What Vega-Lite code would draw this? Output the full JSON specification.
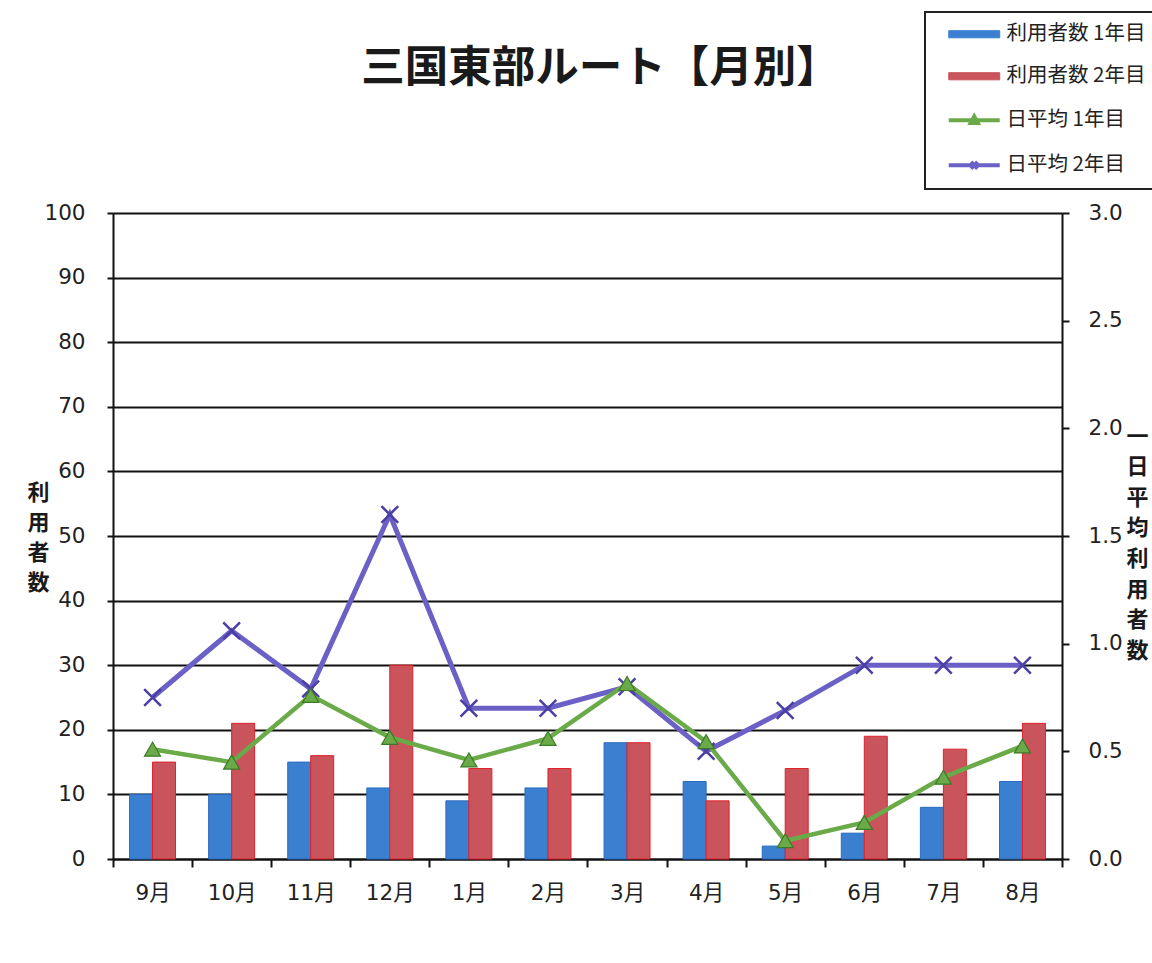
{
  "$schema": "https://vega.github.io/schema/vega-lite/v6.json",
  "width": 949,
  "height": 646,
  "autosize": {"type": "none"},
  "padding": {"left": 113, "top": 213, "right": 90, "bottom": 104},
  "background": "white",
  "config": {"view": {"stroke": null}, "font": "Noto Sans CJK JP"},
  "title": {
    "text": "三国東部ルート【月別】",
    "anchor": "middle",
    "fontSize": 43.5,
    "fontWeight": "bold",
    "font": "Noto Sans CJK JP",
    "color": "#1a1a1a",
    "offset": 0,
    "dy": 80,
    "dx": 13
  },
  "datasets": {
    "bars": [
      {"month": "9月", "series": "利用者数 1年目", "value": 10},
      {"month": "9月", "series": "利用者数 2年目", "value": 15},
      {"month": "10月", "series": "利用者数 1年目", "value": 10},
      {"month": "10月", "series": "利用者数 2年目", "value": 21},
      {"month": "11月", "series": "利用者数 1年目", "value": 15},
      {"month": "11月", "series": "利用者数 2年目", "value": 16},
      {"month": "12月", "series": "利用者数 1年目", "value": 11},
      {"month": "12月", "series": "利用者数 2年目", "value": 30},
      {"month": "1月", "series": "利用者数 1年目", "value": 9},
      {"month": "1月", "series": "利用者数 2年目", "value": 14},
      {"month": "2月", "series": "利用者数 1年目", "value": 11},
      {"month": "2月", "series": "利用者数 2年目", "value": 14},
      {"month": "3月", "series": "利用者数 1年目", "value": 18},
      {"month": "3月", "series": "利用者数 2年目", "value": 18},
      {"month": "4月", "series": "利用者数 1年目", "value": 12},
      {"month": "4月", "series": "利用者数 2年目", "value": 9},
      {"month": "5月", "series": "利用者数 1年目", "value": 2},
      {"month": "5月", "series": "利用者数 2年目", "value": 14},
      {"month": "6月", "series": "利用者数 1年目", "value": 4},
      {"month": "6月", "series": "利用者数 2年目", "value": 19},
      {"month": "7月", "series": "利用者数 1年目", "value": 8},
      {"month": "7月", "series": "利用者数 2年目", "value": 17},
      {"month": "8月", "series": "利用者数 1年目", "value": 12},
      {"month": "8月", "series": "利用者数 2年目", "value": 21}
    ],
    "lines": [
      {"month": "9月", "series": "日平均 1年目", "value": 0.51},
      {"month": "10月", "series": "日平均 1年目", "value": 0.45},
      {"month": "11月", "series": "日平均 1年目", "value": 0.76},
      {"month": "12月", "series": "日平均 1年目", "value": 0.565},
      {"month": "1月", "series": "日平均 1年目", "value": 0.46},
      {"month": "2月", "series": "日平均 1年目", "value": 0.56},
      {"month": "3月", "series": "日平均 1年目", "value": 0.815},
      {"month": "4月", "series": "日平均 1年目", "value": 0.545},
      {"month": "5月", "series": "日平均 1年目", "value": 0.085},
      {"month": "6月", "series": "日平均 1年目", "value": 0.17},
      {"month": "7月", "series": "日平均 1年目", "value": 0.38},
      {"month": "8月", "series": "日平均 1年目", "value": 0.525},
      {"month": "9月", "series": "日平均 2年目", "value": 0.75},
      {"month": "10月", "series": "日平均 2年目", "value": 1.06},
      {"month": "11月", "series": "日平均 2年目", "value": 0.79},
      {"month": "12月", "series": "日平均 2年目", "value": 1.6},
      {"month": "1月", "series": "日平均 2年目", "value": 0.7},
      {"month": "2月", "series": "日平均 2年目", "value": 0.7},
      {"month": "3月", "series": "日平均 2年目", "value": 0.8},
      {"month": "4月", "series": "日平均 2年目", "value": 0.5},
      {"month": "5月", "series": "日平均 2年目", "value": 0.69},
      {"month": "6月", "series": "日平均 2年目", "value": 0.9},
      {"month": "7月", "series": "日平均 2年目", "value": 0.9},
      {"month": "8月", "series": "日平均 2年目", "value": 0.9}
    ]
  },
  "layer": [
    {
      "data": {"name": "bars"},
      "mark": {"type": "bar", "strokeWidth": 1},
      "encoding": {
        "x": {
          "field": "month",
          "type": "nominal",
          "sort": ["9月", "10月", "11月", "12月", "1月", "2月", "3月", "4月", "5月", "6月", "7月", "8月"],
          "scale": {"paddingInner": 0, "paddingOuter": 0},
          "axis": {
            "title": null,
            "labelAngle": 0,
            "labelFontSize": 21.5,
            "labelFont": "DejaVu Sans, Noto Sans CJK JP",
            "labelColor": "#222",
            "labelPadding": 15,
            "tickBand": "extent",
            "tickSize": 8,
            "tickColor": "#111",
            "tickWidth": 2,
            "domainColor": "#111",
            "domainWidth": 2,
            "grid": false
          }
        },
        "xOffset": {"field": "series", "scale": {"paddingOuter": 0.72}},
        "y": {
          "field": "value",
          "type": "quantitative",
          "scale": {"domain": [0, 100]},
          "axis": {
            "values": [0, 10, 20, 30, 40, 50, 60, 70, 80, 90, 100],
            "grid": true,
            "gridColor": "#111",
            "gridWidth": 2,
            "gridOpacity": 1,
            "domainColor": "#111",
            "domainWidth": 2,
            "tickColor": "#111",
            "tickWidth": 2,
            "tickSize": 6,
            "labelFontSize": 21.5,
            "labelFont": "DejaVu Sans",
            "labelColor": "#222",
            "labelPadding": 22,
            "title": ["利", "用", "者", "数"],
            "titleAngle": 0,
            "titleFontSize": 22,
            "titleFontWeight": "bold",
            "titleFont": "Noto Sans CJK JP",
            "titleColor": "#1a1a1a",
            "titleLineHeight": 30,
            "titleAlign": "center",
            "titleBaseline": "top",
            "titleX": -75,
            "titleY": 269
          }
        },
        "color": {
          "field": "series",
          "type": "nominal",
          "scale": {
            "domain": ["利用者数 1年目", "利用者数 2年目", "日平均 1年目", "日平均 2年目"],
            "range": ["#3b80d0", "#c9545b", "#6aaa48", "#6a60c6"]
          },
          "legend": {
            "title": null,
            "orient": "none",
            "legendX": 812,
            "legendY": -201,
            "direction": "vertical",
            "fillColor": "white",
            "strokeColor": "#222",
            "padding": 12,
            "rowPadding": 21,
            "labelFontSize": 20.5,
            "labelFont": "Noto Sans CJK JP",
            "labelColor": "#222",
            "symbolOffset": 27,
            "labelOffset": 22,
            "labelLimit": 300,
            "symbolSize": 2600,
            "encode": {
              "legend": {"update": {"strokeWidth": {"value": 2}}},
              "symbols": {
                "update": {
                  "shape": {"signal": "datum.value === '日平均 1年目' ? 'M-1,0H1M-0.14,0.11L0,-0.15L0.14,0.11Z' : datum.value === '日平均 2年目' ? 'M-1,0H1M-0.13,-0.13L0.13,0.13M-0.13,0.13L0.13,-0.13' : 'M-1,-0.14H1V0.14H-1Z'"},
                  "fill": {"scale": "color", "field": "value"},
                  "stroke": {"scale": "color", "field": "value"},
                  "strokeWidth": {"signal": "datum.value === '日平均 1年目' || datum.value === '日平均 2年目' ? 4 : 1"},
                  "opacity": {"value": 1},
                  "fillOpacity": {"value": 1}
                }
              }
            }
          }
        },
        "stroke": {
          "field": "series",
          "type": "nominal",
          "scale": {"domain": ["利用者数 1年目", "利用者数 2年目"], "range": ["#2a6bbd", "#e0212b"]},
          "legend": null
        }
      }
    },
    {
      "data": {"name": "lines"},
      "encoding": {
        "x": {"field": "month", "type": "nominal", "sort": ["9月", "10月", "11月", "12月", "1月", "2月", "3月", "4月", "5月", "6月", "7月", "8月"]},
        "y": {
          "field": "value",
          "type": "quantitative",
          "scale": {"domain": [0, 3]},
          "axis": {
            "orient": "right",
            "values": [0, 0.5, 1, 1.5, 2, 2.5, 3],
            "format": ".1f",
            "grid": false,
            "domainColor": "#111",
            "domainWidth": 2,
            "tickColor": "#111",
            "tickWidth": 2,
            "tickSize": 7,
            "labelFontSize": 21.5,
            "labelFont": "DejaVu Sans",
            "labelColor": "#222",
            "labelPadding": 19,
            "title": ["一", "日", "平", "均", "利", "用", "者", "数"],
            "titleAngle": 0,
            "titleFontSize": 22,
            "titleFontWeight": "bold",
            "titleFont": "Noto Sans CJK JP",
            "titleColor": "#1a1a1a",
            "titleLineHeight": 30.6,
            "titleAlign": "center",
            "titleBaseline": "top",
            "titleX": 75,
            "titleY": 213
          }
        }
      },
      "layer": [
        {
          "transform": [{"filter": "datum.series === '日平均 2年目'"}],
          "mark": {"type": "line", "strokeWidth": 5},
          "encoding": {"color": {"field": "series", "type": "nominal"}}
        },
        {
          "transform": [{"filter": "datum.series === '日平均 2年目'"}],
          "mark": {"type": "point", "shape": "M-1,-1L1,1M-1,1L1,-1", "filled": false, "size": 280, "stroke": "#4a3fa3", "strokeWidth": 2.5, "opacity": 1}
        },
        {
          "transform": [{"filter": "datum.series === '日平均 1年目'"}],
          "mark": {"type": "line", "strokeWidth": 4.5},
          "encoding": {"color": {"field": "series", "type": "nominal"}}
        },
        {
          "transform": [{"filter": "datum.series === '日平均 1年目'"}],
          "mark": {"type": "point", "shape": "triangle-up", "filled": true, "size": 260, "fill": "#6aaa48", "stroke": "#3d7a28", "strokeWidth": 1.2, "opacity": 1}
        }
      ]
    }
  ],
  "resolve": {"scale": {"y": "independent"}}
}
